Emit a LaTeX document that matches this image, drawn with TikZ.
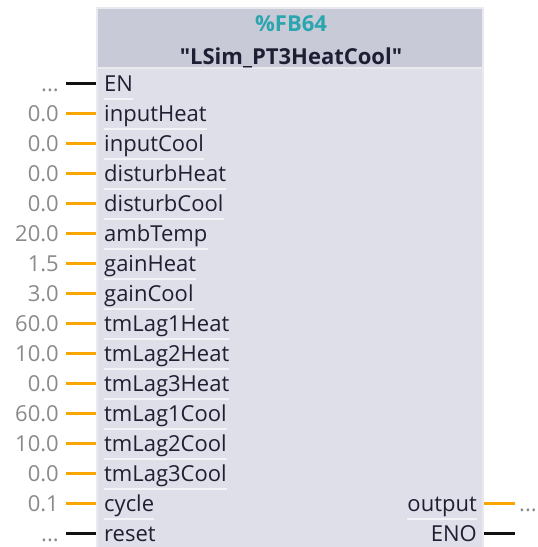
\documentclass[tikz,border=0pt]{standalone}
\usepackage{fontspec}
\setmainfont{Open Sans}
\newfontfamily\titlefont{Open Sans}[Ligatures=TeXOff]
\usetikzlibrary{calc}
\definecolor{hdr}{HTML}{C8CAD8}
\definecolor{bdy}{HTML}{DEDFE8}
\definecolor{brd}{HTML}{E9E9F0}
\definecolor{sep}{HTML}{F3F3F8}
\definecolor{teal}{HTML}{2BA6AE}
\definecolor{labtxt}{HTML}{1F1F33}
\definecolor{valtxt}{HTML}{8C8A88}
\definecolor{wireor}{HTML}{F9A602}
\definecolor{wirebk}{HTML}{111111}
\newcommand\mydots{...}
\begin{document}
\begin{tikzpicture}[x=1pt,y=-1pt,
  pinlabel/.style={inner sep=0pt,text=labtxt,font=\fontsize{22}{26}\selectfont},
  pinval/.style={inner sep=0pt,text=valtxt,font=\fontsize{22}{26}\selectfont},
  wire/.style={line width=3pt},
  sepline/.style={draw=sep,line width=1.2pt},
  title/.style={inner sep=0pt,font=\titlefont\bfseries\fontsize{22}{26}\selectfont}]
\useasboundingbox (0,0) rectangle (538,547);
% block
\fill[brd] (96,7) rectangle (484,547);
\fill[hdr] (98,9) rectangle (482,67);
\fill[bdy] (98,69) rectangle (482,547);
\node[title,text=teal,anchor=base] (fb) at (291,31) {\%FB64};
\node[title,text=labtxt,anchor=base] (nm) at (291,64) {"LSim\_PT3HeatCool"};
% inputs
\foreach \val/\lab/\wc [count=\i from 0] in {
  \mydots/EN/wirebk, 0.0/inputHeat/wireor, 0.0/inputCool/wireor,
  0.0/disturbHeat/wireor, 0.0/disturbCool/wireor, 20.0/ambTemp/wireor,
  1.5/gainHeat/wireor, 3.0/gainCool/wireor, 60.0/tmLag1Heat/wireor,
  10.0/tmLag2Heat/wireor, 0.0/tmLag3Heat/wireor, 60.0/tmLag1Cool/wireor,
  10.0/tmLag2Cool/wireor, 0.0/tmLag3Cool/wireor, 0.1/cycle/wireor,
  \mydots/reset/wirebk} {
  \pgfmathsetmacro\yy{83+30*\i}
  \pgfmathsetmacro\yb{\yy+8}
  \node[pinlabel,anchor=base west] (l\i) at (104,\yb) {\lab};
  \node[pinval,anchor=base east] (v\i) at (59,\yb) {\val};
  \coordinate (s\i) at (66,\yy);
  \coordinate (e\i) at (96,\yy);
  \draw[wire,draw=\wc] (s\i) -- (e\i);
  \draw[sepline] ($(l\i.base west)+(0,8)$) -- ($(l\i.base east)+(0,8)$);
}
% outputs
\node[pinlabel,anchor=base east] (lo) at (477,511) {output};
\node[pinlabel,anchor=base east] (le) at (477,541) {ENO};
\coordinate (so) at (484,503);
\coordinate (eo) at (515,503);
\coordinate (se) at (484,533);
\coordinate (ee) at (515,533);
\draw[wire,draw=wireor] (so) -- (eo);
\draw[wire,draw=wirebk] (se) -- (ee);
\node[pinval,anchor=base west] (vo) at (519,511) {\mydots};
\draw[sepline] ($(lo.base west)+(0,8)$) -- ($(lo.base east)+(0,8)$);
\end{tikzpicture}
\end{document}
